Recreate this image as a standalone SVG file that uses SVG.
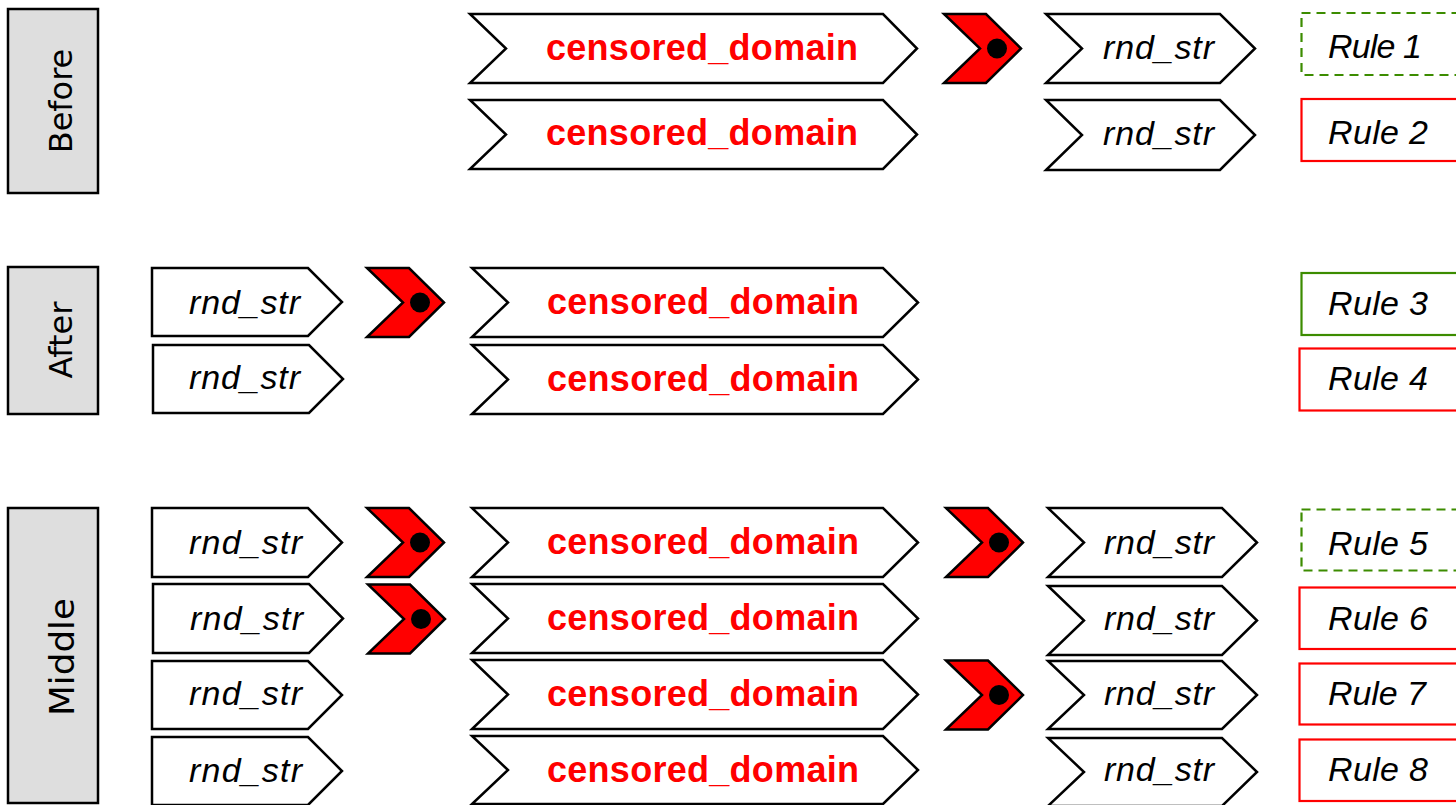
<svg xmlns="http://www.w3.org/2000/svg" width="1456" height="805" viewBox="0 0 1456 805">
<defs>
<style>
.lbl{fill:#dedede;stroke:#000;stroke-width:2.5}
.lt{font-family:"DejaVu Sans",sans-serif;font-size:32px;fill:#000;text-anchor:middle}
.sh{fill:#fff;stroke:#000;stroke-width:2.5;stroke-linejoin:miter}
.cd{font-family:"Liberation Sans",Arial,sans-serif;font-weight:bold;font-size:36px;fill:#ff0000}
.rs{font-family:"Liberation Sans",Arial,sans-serif;font-style:italic;font-size:34px;fill:#000}
.rl{font-family:"Liberation Sans",Arial,sans-serif;font-style:italic;font-size:34px;fill:#000}
.rule{fill:#fff;stroke-width:2.2}
.ok{stroke:#3c8c00}
.dash{stroke-dasharray:9 6}
.bad{stroke:#ff0000}
.mk{fill:#ff0000;stroke:#000;stroke-width:2.5;stroke-linejoin:miter}
</style>
<g id="mark"><polygon class="mk" points="0,0 42,0 77,34.5 42,69 0,69 36,34.5"/><circle cx="53" cy="34.5" r="10" fill="#000"/></g>
</defs>
<rect width="1456" height="805" fill="#fff"/>

<!-- section labels -->
<g id="label-before"><rect class="lbl" x="8" y="9" width="90" height="184"/><text class="lt" transform="translate(72,101) rotate(-90)">Before</text></g>
<g id="label-after"><rect class="lbl" x="8" y="267" width="90" height="147"/><text class="lt" transform="translate(72,340) rotate(-90)">After</text></g>
<g id="label-middle"><rect class="lbl" x="8" y="508" width="90" height="295"/><text class="lt" style="font-size:34px" transform="translate(74,657) rotate(-90)" textLength="118" lengthAdjust="spacingAndGlyphs">Middle</text></g>

<!-- Before -->
<g id="b1-domain"><polygon class="sh" points="470,14 883,14 917,48.5 883,83 470,83 506,48.5"/><text class="cd" x="546" y="59.5" textLength="312" lengthAdjust="spacing">censored_domain</text></g>
<g id="b1-mark"><use href="#mark" transform="translate(944,14)"/></g>
<g id="b1-rnd"><polygon class="sh" points="1046,14 1220,14 1255,48.5 1220,83 1046,83 1082,48.5"/><text class="rs" x="1103" y="59" textLength="111" lengthAdjust="spacing">rnd_str</text></g>
<g id="rule1"><rect class="rule ok dash" x="1301.5" y="13" width="170" height="62"/><text class="rl" x="1328" y="57.5" textLength="94" lengthAdjust="spacing">Rule 1</text></g>

<g id="b2-domain"><polygon class="sh" points="470,100 883,100 917,134.5 883,169 470,169 506,134.5"/><text class="cd" x="546" y="145" textLength="312" lengthAdjust="spacing">censored_domain</text></g>
<g id="b2-rnd"><polygon class="sh" points="1046,100 1220,100 1255,135 1220,170 1046,170 1082,135"/><text class="rs" x="1103" y="145" textLength="111" lengthAdjust="spacing">rnd_str</text></g>
<g id="rule2"><rect class="rule bad" x="1301.5" y="99" width="170" height="62"/><text class="rl" x="1328" y="144" textLength="100" lengthAdjust="spacing">Rule 2</text></g>

<!-- After -->
<g id="a1-rnd"><polygon class="sh" points="152,268 308,268 342,302 308,336 152,336"/><text class="rs" x="189" y="313.5" textLength="111" lengthAdjust="spacing">rnd_str</text></g>
<g id="a1-mark"><use href="#mark" transform="translate(367,268)"/></g>
<g id="a1-domain"><polygon class="sh" points="472,268 883,268 918,302.5 883,337 472,337 508,302.5"/><text class="cd" x="547" y="313.5" textLength="312" lengthAdjust="spacing">censored_domain</text></g>
<g id="rule3"><rect class="rule ok" x="1301.5" y="273" width="170" height="62"/><text class="rl" x="1328" y="315" textLength="100" lengthAdjust="spacing">Rule 3</text></g>

<g id="a2-rnd"><polygon class="sh" points="153,345 309,345 343,379 309,413 153,413"/><text class="rs" x="189" y="388.5" textLength="111" lengthAdjust="spacing">rnd_str</text></g>
<g id="a2-domain"><polygon class="sh" points="472,345 883,345 918,379.5 883,414 472,414 508,379.5"/><text class="cd" x="547" y="390.5" textLength="312" lengthAdjust="spacing">censored_domain</text></g>
<g id="rule4"><rect class="rule bad" x="1299.5" y="348.5" width="170" height="62"/><text class="rl" x="1328" y="390" textLength="100" lengthAdjust="spacing">Rule 4</text></g>

<!-- Middle -->
<g id="m1-rnd"><polygon class="sh" points="152,508 308,508 342,542.5 308,577 152,577"/><text class="rs" x="189" y="553.5" textLength="113" lengthAdjust="spacing">rnd_str</text></g>
<g id="m1-mark"><use href="#mark" transform="translate(367,508)"/></g>
<g id="m1-domain"><polygon class="sh" points="472,508 883,508 918,542.5 883,577 472,577 508,542.5"/><text class="cd" x="547" y="553.5" textLength="312" lengthAdjust="spacing">censored_domain</text></g>
<g id="m1-mark2"><use href="#mark" transform="translate(946,508)"/></g>
<g id="m1-rnd2"><polygon class="sh" points="1048,508 1222,508 1257,542.5 1222,577 1048,577 1084,542.5"/><text class="rs" x="1104" y="553.5" textLength="110" lengthAdjust="spacing">rnd_str</text></g>
<g id="rule5"><rect class="rule ok dash" x="1301.5" y="509.5" width="170" height="61"/><text class="rl" x="1328" y="555" textLength="100" lengthAdjust="spacing">Rule 5</text></g>

<g id="m2-rnd"><polygon class="sh" points="153,584 309,584 343,618.5 309,653 153,653"/><text class="rs" x="190" y="629.5" textLength="113" lengthAdjust="spacing">rnd_str</text></g>
<g id="m2-mark"><use href="#mark" transform="translate(368,584.5)"/></g>
<g id="m2-domain"><polygon class="sh" points="472,584 883,584 918,618.5 883,653 472,653 508,618.5"/><text class="cd" x="547" y="629.5" textLength="312" lengthAdjust="spacing">censored_domain</text></g>
<g id="m2-rnd2"><polygon class="sh" points="1048,586 1222,586 1257,620.5 1222,655 1048,655 1084,620.5"/><text class="rs" x="1104" y="629.5" textLength="110" lengthAdjust="spacing">rnd_str</text></g>
<g id="rule6"><rect class="rule bad" x="1299.5" y="587.5" width="170" height="61.5"/><text class="rl" x="1328" y="629.5" textLength="100" lengthAdjust="spacing">Rule 6</text></g>

<g id="m3-rnd"><polygon class="sh" points="152,661 308,661 342,695 308,729 152,729"/><text class="rs" x="189" y="705" textLength="113" lengthAdjust="spacing">rnd_str</text></g>
<g id="m3-domain"><polygon class="sh" points="472,660 883,660 918,694.5 883,729 472,729 508,694.5"/><text class="cd" x="547" y="705.5" textLength="312" lengthAdjust="spacing">censored_domain</text></g>
<g id="m3-mark2"><use href="#mark" transform="translate(946,660.5)"/></g>
<g id="m3-rnd2"><polygon class="sh" points="1048,661 1222,661 1257,695 1222,729 1048,729 1084,695"/><text class="rs" x="1104" y="704.5" textLength="110" lengthAdjust="spacing">rnd_str</text></g>
<g id="rule7"><rect class="rule bad" x="1299.5" y="663.5" width="170" height="61"/><text class="rl" x="1328" y="705" textLength="98" lengthAdjust="spacing">Rule 7</text></g>

<g id="m4-rnd"><polygon class="sh" points="152,737 308,737 342,771 308,805 152,805"/><text class="rs" x="189" y="781.5" textLength="113" lengthAdjust="spacing">rnd_str</text></g>
<g id="m4-domain"><polygon class="sh" points="472,736 883,736 918,770 883,804 472,804 508,770"/><text class="cd" x="547" y="782" textLength="312" lengthAdjust="spacing">censored_domain</text></g>
<g id="m4-rnd2"><polygon class="sh" points="1048,738 1222,738 1257,772 1222,806 1048,806 1084,772"/><text class="rs" x="1104" y="780.5" textLength="110" lengthAdjust="spacing">rnd_str</text></g>
<g id="rule8"><rect class="rule bad" x="1299.5" y="739.5" width="170" height="61.5"/><text class="rl" x="1328" y="781" textLength="100" lengthAdjust="spacing">Rule 8</text></g>

<g id="connectors"></g>
</svg>
